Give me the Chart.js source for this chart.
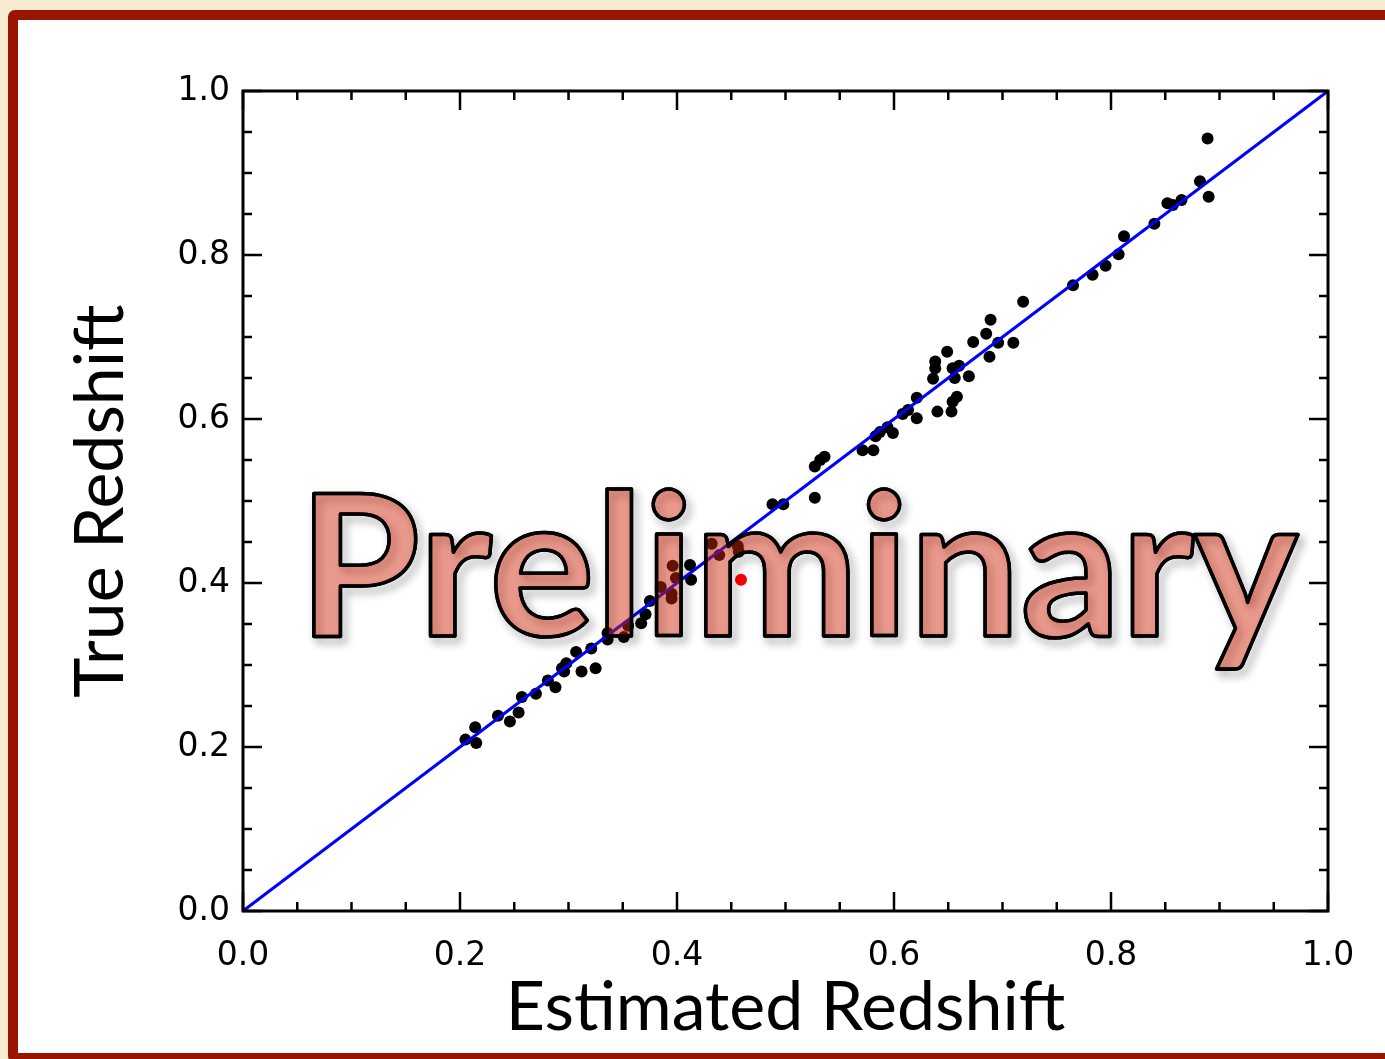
<!DOCTYPE html>
<html>
<head>
<meta charset="utf-8">
<script src="https://cdn.jsdelivr.net/npm/chart.js@4"></script>
<style>
  html, body { margin: 0; padding: 0; width: 1385px; height: 1059px; overflow: hidden; background: #f7ebd0; }
  #kader { position: absolute; left: 8px; top: 10px; width: 1420px; height: 1053px; box-sizing: border-box;
           border: 10px solid #9a1400; border-radius: 7px; background: #fff; }
  #grafiek { position: absolute; left: 0; top: 0; }
</style>
</head>
<body>
<div id="kader"></div>
<canvas id="grafiek" width="1385" height="1059"></canvas>
<script>
// Geschatte en echte roodverschuiving
const geschatX = [0.205, 0.214, 0.215, 0.235, 0.246, 0.254, 0.257, 0.270, 0.281, 0.288,
  0.294, 0.298, 0.296, 0.307, 0.312, 0.325, 0.321, 0.336, 0.336, 0.351,
  0.355, 0.367, 0.371, 0.375, 0.385, 0.395, 0.395, 0.396, 0.399, 0.412,
  0.413, 0.432, 0.439, 0.456, 0.457, 0.488, 0.498, 0.527, 0.527, 0.532,
  0.536, 0.571, 0.581, 0.583, 0.587, 0.594, 0.599, 0.608, 0.613, 0.621,
  0.621, 0.640, 0.653, 0.654, 0.658, 0.636, 0.638, 0.638, 0.649, 0.654,
  0.660, 0.656, 0.669, 0.673, 0.685, 0.689, 0.688, 0.696, 0.710, 0.719,
  0.765, 0.783, 0.795, 0.807, 0.812, 0.840, 0.852, 0.857, 0.865, 0.882,
  0.889, 0.890];
const echtY = [0.209, 0.224, 0.205, 0.238, 0.231, 0.242, 0.261, 0.265, 0.281, 0.273,
  0.296, 0.302, 0.292, 0.316, 0.292, 0.296, 0.320, 0.331, 0.339, 0.334,
  0.348, 0.351, 0.362, 0.378, 0.395, 0.381, 0.387, 0.421, 0.406, 0.422,
  0.404, 0.448, 0.434, 0.445, 0.438, 0.496, 0.496, 0.504, 0.542, 0.550,
  0.554, 0.562, 0.562, 0.579, 0.584, 0.590, 0.583, 0.606, 0.611, 0.626,
  0.601, 0.609, 0.609, 0.621, 0.627, 0.649, 0.670, 0.662, 0.682, 0.662,
  0.665, 0.650, 0.652, 0.694, 0.704, 0.721, 0.676, 0.693, 0.693, 0.743,
  0.763, 0.776, 0.787, 0.801, 0.823, 0.838, 0.863, 0.861, 0.867, 0.890,
  0.942, 0.871];

// Het ene rode punt
const roodX = [0.459];
const roodY = [0.404];

// De lijn y = x
const lijnX = [0, 1];
const lijnY = [0, 1];

const tickWaarden = [0, 0.2, 0.4, 0.6, 0.8, 1.0];
const kleineTicks = [0.05, 0.1, 0.15, 0.25, 0.3, 0.35, 0.45, 0.5, 0.55, 0.65, 0.7, 0.75, 0.85, 0.9, 0.95];

const punten = geschatX.map((x, i) => ({ x: x, y: echtY[i] }));
const rodePunten = roodX.map((x, i) => ({ x: x, y: roodY[i] }));
const lijnPunten = lijnX.map((x, i) => ({ x: x, y: lijnY[i] }));

// Kader rond het plotgebied met ticks naar binnen, plus het "Preliminary" opschrift
const kaderPlugin = {
  id: 'kaderPlugin',
  afterDatasetsDraw(chart) {
    const c = chart.ctx;
    const xs = chart.scales.x;
    const ys = chart.scales.y;
    const { left, right, top, bottom } = chart.chartArea;
    c.save();
    c.strokeStyle = '#000';
    c.lineWidth = 3;
    c.strokeRect(left, top, right - left, bottom - top);
    c.lineWidth = 2.5;
    const tekenTick = (v, lengte) => {
      const px = xs.getPixelForValue(v);
      const py = ys.getPixelForValue(v);
      c.beginPath();
      c.moveTo(px, bottom); c.lineTo(px, bottom - lengte);
      c.moveTo(px, top); c.lineTo(px, top + lengte);
      c.moveTo(left, py); c.lineTo(left + lengte, py);
      c.moveTo(right, py); c.lineTo(right - lengte, py);
      c.stroke();
    };
    tickWaarden.forEach(v => tekenTick(v, 19));
    kleineTicks.forEach(v => tekenTick(v, 9));

    // Opschrift, geschaald tot ongeveer 1000 px breed
    c.font = 'bold 200px Lato';
    const grootte = 200 * 1000 / c.measureText('Preliminary').width;
    c.font = 'bold ' + grootte.toFixed(1) + 'px Lato';
    c.textAlign = 'left';
    c.textBaseline = 'alphabetic';
    const tx = 298, ty = 636;
    c.lineJoin = 'round';
    c.shadowColor = 'rgba(0,0,0,0.45)';
    c.shadowBlur = 8;
    c.shadowOffsetX = 4;
    c.shadowOffsetY = 5;
    c.lineWidth = 3.5;
    c.strokeText('Preliminary', tx, ty);
    c.shadowColor = 'transparent';
    c.fillStyle = 'rgba(208, 38, 8, 0.47)';
    c.fillText('Preliminary', tx, ty);
    c.strokeText('Preliminary', tx, ty);
    c.restore();
  }
};

const ctx = document.getElementById('grafiek').getContext('2d');
new Chart(ctx, {
  type: 'scatter',
  data: {
    datasets: [
      {
        type: 'line',
        data: lijnPunten,
        borderColor: '#0000ff',
        borderWidth: 3,
        pointRadius: 0,
        order: 0
      },
      {
        data: rodePunten,
        backgroundColor: '#ff0000',
        borderWidth: 0,
        pointRadius: 6,
        order: 1
      },
      {
        data: punten,
        backgroundColor: '#000000',
        borderWidth: 0,
        pointRadius: 6,
        order: 2
      }
    ]
  },
  options: {
    responsive: false,
    animation: false,
    layout: { padding: { top: 91, right: 57, left: 0, bottom: 0 } },
    plugins: { legend: { display: false }, tooltip: { enabled: false } },
    scales: {
      x: {
        type: 'linear', min: 0, max: 1,
        afterBuildTicks: s => { s.ticks = tickWaarden.map(v => ({ value: v })); },
        afterFit: s => { s.height = 148; },
        grid: { display: false, drawTicks: false },
        border: { display: false },
        ticks: { color: '#000', padding: 26, font: { family: 'DejaVu Sans', size: 33 }, callback: v => v.toFixed(1) },
        title: { display: true, text: 'Estimated Redshift', color: '#000', font: { family: 'Lato', size: 68 }, padding: { top: 0, bottom: 10 } }
      },
      y: {
        type: 'linear', min: 0, max: 1,
        afterBuildTicks: s => { s.ticks = tickWaarden.map(v => ({ value: v })); },
        afterFit: s => { s.width = 243; },
        grid: { display: false, drawTicks: false },
        border: { display: false },
        ticks: { color: '#000', padding: 13, font: { family: 'DejaVu Sans', size: 33 }, callback: v => v.toFixed(1) },
        title: { display: true, text: 'True Redshift', color: '#000', font: { family: 'Lato', size: 68 }, padding: { top: 60, bottom: 0 } }
      }
    }
  },
  plugins: [kaderPlugin]
});
</script>
</body>
</html>
